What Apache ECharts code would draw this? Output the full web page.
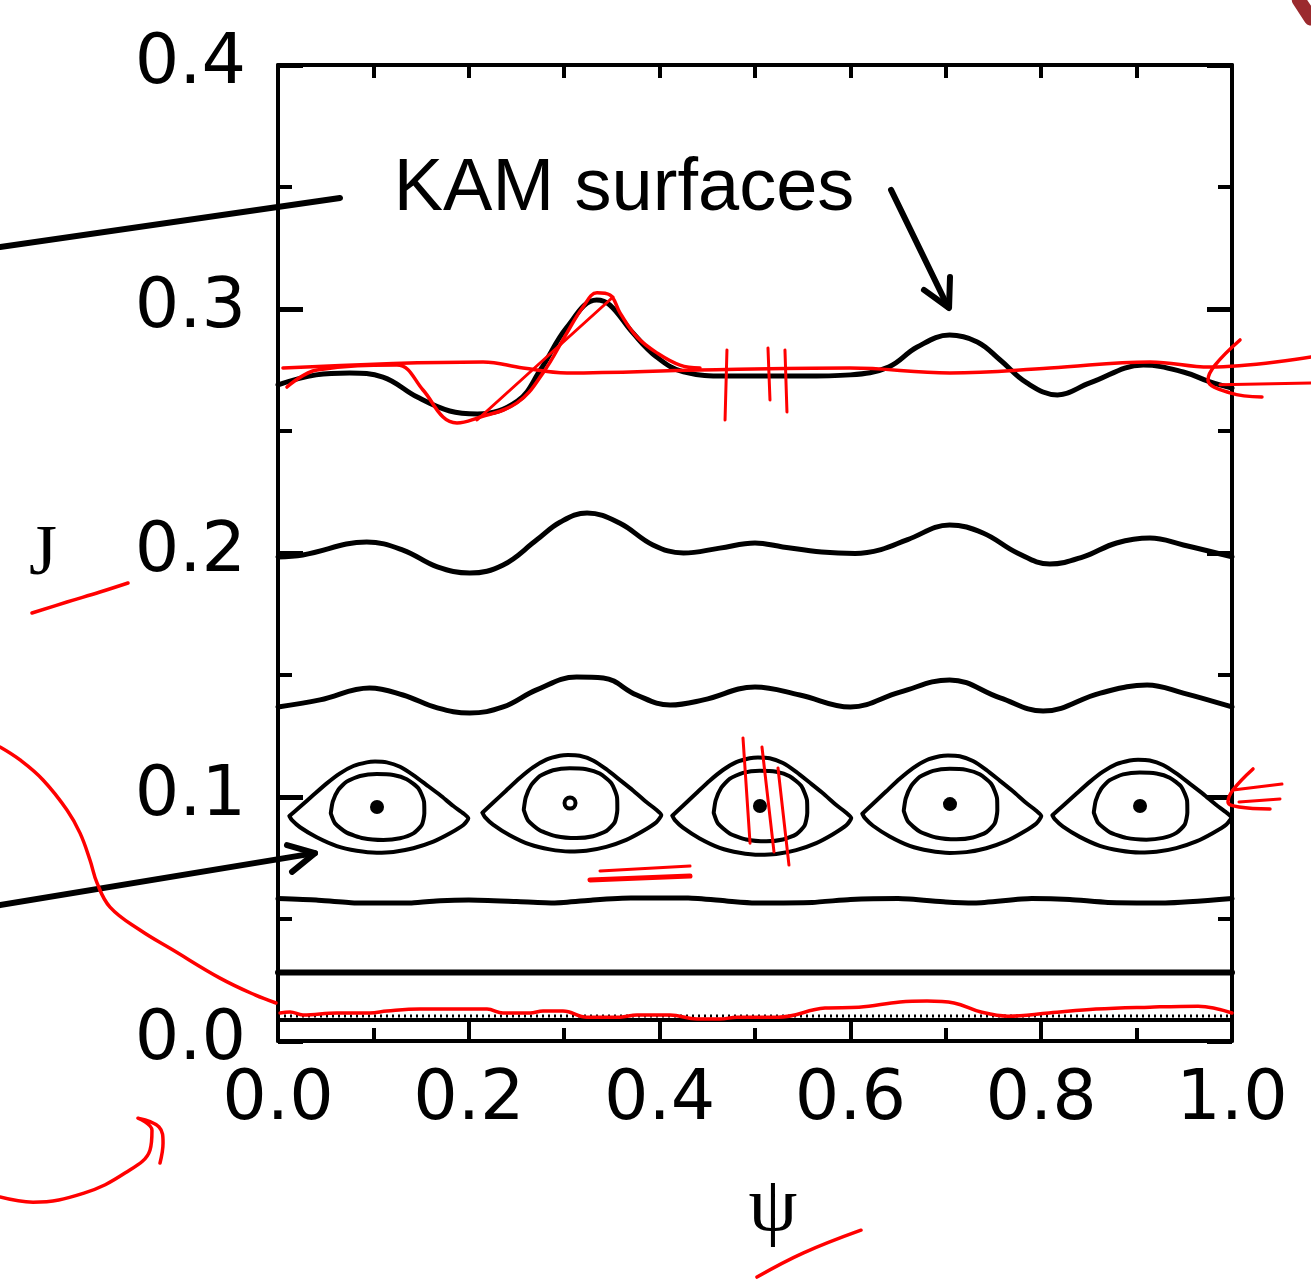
<!doctype html>
<html><head><meta charset="utf-8">
<style>html,body{margin:0;padding:0;background:#fff}#chart{width:1311px;height:1279px}</style>
</head><body><div id="chart"></div>
<script src="https://cdn.jsdelivr.net/npm/echarts@6/dist/echarts.min.js"></script>
<script>
// phase portrait, psi on x, J on y
const kamTop = [[0.000,0.2689],[0.040,0.2730],[0.075,0.2738],[0.110,0.2721],[0.146,0.2639],[0.180,0.2582],[0.209,0.2570],[0.251,0.2623],[0.275,0.2750],[0.303,0.2926],[0.334,0.3037],[0.348,0.3016],[0.372,0.2902],[0.397,0.2803],[0.425,0.2742],[0.470,0.2725],[0.550,0.2725],[0.600,0.2730],[0.640,0.2762],[0.670,0.2844],[0.704,0.2893],[0.733,0.2865],[0.757,0.2791],[0.785,0.2697],[0.817,0.2648],[0.851,0.2697],[0.907,0.2770],[0.949,0.2742],[0.977,0.2701],[1.000,0.2676]];
const kamMid = [[0.000,0.1984],[0.026,0.1992],[0.093,0.2045],[0.131,0.2012],[0.167,0.1943],[0.201,0.1918],[0.236,0.1951],[0.271,0.2053],[0.296,0.2127],[0.324,0.2164],[0.358,0.2123],[0.393,0.2033],[0.425,0.2000],[0.463,0.2020],[0.500,0.2041],[0.529,0.2025],[0.570,0.2004],[0.605,0.1998],[0.632,0.2014],[0.660,0.2055],[0.704,0.2115],[0.739,0.2082],[0.775,0.2000],[0.809,0.1955],[0.844,0.1984],[0.879,0.2041],[0.914,0.2061],[0.949,0.2033],[1.000,0.1984]];
const kamLow = [[0.000,0.1369],[0.044,0.1398],[0.096,0.1447],[0.131,0.1418],[0.167,0.1365],[0.201,0.1344],[0.236,0.1369],[0.271,0.1439],[0.313,0.1492],[0.341,0.1488],[0.376,0.1418],[0.411,0.1377],[0.446,0.1398],[0.500,0.1451],[0.547,0.1418],[0.600,0.1369],[0.652,0.1430],[0.704,0.1480],[0.757,0.1406],[0.802,0.1352],[0.862,0.1426],[0.911,0.1459],[0.949,0.1426],[1.000,0.1369]];
const line058 = [[0.00,0.0584],[0.04,0.0578],[0.08,0.0566],[0.14,0.0566],[0.17,0.0575],[0.20,0.0578],[0.25,0.0572],[0.29,0.0566],[0.33,0.0578],[0.37,0.0586],[0.43,0.0586],[0.47,0.0574],[0.50,0.0566],[0.56,0.0568],[0.60,0.0580],[0.65,0.0584],[0.70,0.0570],[0.73,0.0566],[0.79,0.0584],[0.83,0.0580],[0.87,0.0568],[0.93,0.0566],[1.00,0.0584]];
const line028 = [[0.00,0.0281],[1.00,0.0281]];
const line009 = [[0.00,0.0086],[1.00,0.0086]];
const dots010 = [[0.00,0.0102],[1.00,0.0102]];

// island outlines, offsets from the island centre
const eyeOuter = [[-0.0919,-0.0037],[-0.0807,0.0001],[-0.0668,0.0049],[-0.0527,0.0097],[-0.0388,0.0138],[-0.0248,0.0168],[-0.0108,0.0183],[-0.0021,0.0186],[0.0102,0.0183],[0.0241,0.0165],[0.0380,0.0131],[0.0521,0.0090],[0.0660,0.0049],[0.0800,0.0004],[0.0905,-0.0026],[0.0957,-0.0046],[0.0905,-0.0074],[0.0765,-0.0108],[0.0590,-0.0142],[0.0380,-0.0169],[0.0171,-0.0184],[-0.0003,-0.0187],[-0.0213,-0.0179],[-0.0422,-0.0160],[-0.0632,-0.0124],[-0.0807,-0.0083],[-0.0894,-0.0053],[-0.0919,-0.0037]];
const eyeInner = [[-0.0485,-0.0026],[-0.0464,0.0022],[-0.0406,0.0070],[-0.0318,0.0104],[-0.0178,0.0127],[-0.0003,0.0135],[0.0171,0.0131],[0.0311,0.0114],[0.0433,0.0077],[0.0493,0.0022],[0.0496,-0.0026],[0.0469,-0.0074],[0.0381,-0.0108],[0.0241,-0.0128],[0.0066,-0.0135],[-0.0144,-0.0128],[-0.0318,-0.0105],[-0.0440,-0.0067],[-0.0485,-0.0026]];
const eyeCentres = [[0.1038,0.0959],[0.3061,0.0975],[0.5052,0.0963],[0.7044,0.0971],[0.9036,0.0963]];
const eyeHeight = [1.00,1.06,1.07,1.07,1.02];

// black pointers (drawn in the same psi/J units on a full-page overlay)
const pointerKam = [[-0.2914,0.3254],[0.0650,0.3455]];
const pointerIsland = [[-0.2914,0.0557],[0.0388,0.0770]];
const pointerIslandHead = [[0.0094,0.0803],[0.0388,0.0770],[0.0147,0.0693]];
const arrowKam = [[0.6426,0.3488],[0.7023,0.3008]];
const arrowKamHead = [[0.6771,0.3078],[0.7034,0.3004],[0.7044,0.3131]];

// red pen marks
const redFlat = [[0.0052,0.2758],[0.2149,0.2783],[0.2568,0.2758],[0.3029,0.2738],[0.4423,0.2750],[0.5996,0.2758],[0.7044,0.2738],[0.8092,0.2758],[0.9140,0.2783],[0.9769,0.2762],[1.0828,0.2803]];
const redTrace = [[0.0094,0.2680],[0.0409,0.2750],[0.1247,0.2770],[0.1520,0.2668],[0.1730,0.2557],[0.1876,0.2533],[0.2086,0.2553],[0.2505,0.2615],[0.2778,0.2738],[0.3029,0.2902],[0.3197,0.3008],[0.3344,0.3066],[0.3480,0.3057],[0.3585,0.2984],[0.3763,0.2885],[0.3973,0.2820],[0.4214,0.2770],[0.4423,0.2758]];
const redDiagonal = [[0.2086,0.2545],[0.3512,0.3049]];
const redTopHead = [[1.0084,0.2873],[0.9822,0.2770],[0.9748,0.2709],[0.9979,0.2656],[1.0314,0.2639]];
const redTopShaft = [[0.9874,0.2689],[1.0828,0.2697]];
const redTick1 = [[0.4706,0.2832],[0.4686,0.2545]];
const redTick2 = [[0.5136,0.2840],[0.5157,0.2627]];
const redTick3 = [[0.5314,0.2832],[0.5335,0.2578]];
const redEye1 = [[0.4874,0.1242],[0.4948,0.0811]];
const redEye2 = [[0.5073,0.1205],[0.5199,0.0775]];
const redEye3 = [[0.5241,0.1119],[0.5356,0.0721]];
const redDash1 = [[0.3270,0.0660],[0.4319,0.0676]];
const redDash2 = [[0.3375,0.0697],[0.4319,0.0717]];
const redMidHead = [[1.0220,0.1115],[1.0010,0.1029],[0.9958,0.0980],[1.0073,0.0959],[1.0398,0.0951]];
const redMidArm1 = [[1.0010,0.1029],[1.0524,0.1053]];
const redMidArm2 = [[1.0073,0.0980],[1.0503,0.0992]];
const redBottom = [[0.0021,0.0115],[0.0126,0.0119],[0.0262,0.0107],[0.0618,0.0115],[0.0964,0.0115],[0.1143,0.0123],[0.1488,0.0131],[0.2191,0.0131],[0.2358,0.0115],[0.2642,0.0115],[0.2778,0.0123],[0.2987,0.0123],[0.3239,0.0098],[0.3585,0.0098],[0.3763,0.0107],[0.4109,0.0107],[0.4392,0.0090],[0.4633,0.0090],[0.4811,0.0098],[0.5241,0.0098],[0.5734,0.0135],[0.6090,0.0139],[0.6520,0.0160],[0.6803,0.0164],[0.7086,0.0156],[0.7369,0.0119],[0.7652,0.0102],[0.8082,0.0115],[0.8574,0.0131],[0.9140,0.0139],[0.9644,0.0143],[1.0000,0.0115]];
const redSweep = [[-0.2914,0.1205],[-0.2704,0.1152],[-0.2463,0.1070],[-0.2212,0.0947],[-0.2075,0.0852],[-0.1971,0.0742],[-0.1897,0.0648],[-0.1761,0.0549],[-0.1447,0.0455],[-0.1101,0.0373],[-0.0608,0.0258],[-0.0241,0.0189],[-0.0021,0.0156]];
const redUnderJ = [[-0.2579,0.1754],[-0.2212,0.1799],[-0.1866,0.1840],[-0.1572,0.1877]];
const redHook = [[-0.2914,-0.0639],[-0.2568,-0.0660],[-0.2034,-0.0623],[-0.1604,-0.0541],[-0.1342,-0.0447],[-0.1321,-0.0365],[-0.1468,-0.0316],[-0.1247,-0.0352],[-0.1205,-0.0418],[-0.1237,-0.0500]];
const redUnderPsi = [[0.5021,-0.0967],[0.5503,-0.0869],[0.6111,-0.0775]];
const redCorner = [[1.0700,0.4266],[1.0828,0.4190]];

// overlay extent: the whole page expressed in psi / J
const pagePsi = [-0.2914, 1.0828];
const pageJ = [-0.0975, 0.4266];

function place(tpl, c, h) {
  return tpl.map(p => [c[0] + p[0], c[1] + p[1] * h]);
}
function curve(data, color, width, extra) {
  return Object.assign({
    type: 'line', data: data, symbol: 'none', smooth: 0.4, silent: true,
    lineStyle: { color: color, width: width, cap: 'round', join: 'round' }
  }, extra || {});
}
const onPage = { xAxisIndex: 2, yAxisIndex: 2, clip: false };

const series = [
  curve(kamTop, '#000', 5),
  curve(kamMid, '#000', 5),
  curve(kamLow, '#000', 5),
  curve(line058, '#000', 5, { smooth: 0.2 }),
  curve(line028, '#000', 6, { smooth: 0 }),
  curve(line009, '#000', 4, { smooth: 0 }),
  curve(dots010, '#000', 3, { smooth: 0, lineStyle: { color: '#000', width: 3, type: [2, 4] } })
];
eyeCentres.forEach((c, i) => {
  series.push(curve(place(eyeOuter, c, eyeHeight[i]), '#000', 4, { smooth: 0.2 }));
  series.push(curve(place(eyeInner, c, eyeHeight[i]), '#000', 4, { smooth: 0.2 }));
});
series.push({ type: 'scatter', data: eyeCentres.filter((c, i) => i !== 1), symbol: 'circle', symbolSize: 14, itemStyle: { color: '#000', opacity: 1 }, silent: true });
series.push({ type: 'scatter', data: [eyeCentres[1]], symbol: 'circle', symbolSize: 11, itemStyle: { color: '#fff', borderColor: '#000', borderWidth: 4, opacity: 1 }, silent: true });

[pointerKam, pointerIsland, pointerIslandHead, arrowKam, arrowKamHead].forEach(d => series.push(curve(d, '#000', 6, Object.assign({ smooth: 0 }, onPage))));

[redFlat, redTrace, redTopHead, redSweep, redBottom, redMidHead, redUnderJ, redHook, redUnderPsi].forEach(d => series.push(curve(d, '#f00', 3.5, Object.assign({ smooth: 0.4 }, onPage))));
[redDiagonal, redTopShaft, redTick1, redTick2, redTick3, redEye1, redEye2, redEye3, redDash2, redMidArm1, redMidArm2].forEach(d => series.push(curve(d, '#f00', 3, Object.assign({ smooth: 0 }, onPage))));
series.push(curve(redDash1, '#f00', 5, Object.assign({ smooth: 0 }, onPage)));
series.push(curve(redCorner, '#9b2a2e', 14, Object.assign({ smooth: 0 }, onPage)));

const frame = { show: true, onZero: false, lineStyle: { color: '#000', width: 4 } };
const tickFont = { color: '#000', fontFamily: 'DejaVu Sans', fontSize: 70, formatter: v => v.toFixed(1) };
const hidden = { show: false };

const option = {
  animation: false,
  backgroundColor: '#fff',
  grid: [
    { left: 278, right: 79, top: 65, bottom: 238, containLabel: false },
    { left: 0, right: 0, top: 0, bottom: 0, containLabel: false }
  ],
  xAxis: [
    { type: 'value', gridIndex: 0, min: 0, max: 1, interval: 0.2, position: 'bottom', axisLine: frame,
      axisTick: { inside: true, length: 19, lineStyle: { color: '#000', width: 4 } },
      minorTick: { show: true, splitNumber: 2, length: 13, lineStyle: { color: '#000', width: 4 } },
      axisLabel: Object.assign({ margin: 25 }, tickFont), splitLine: hidden },
    { type: 'value', gridIndex: 0, min: 0, max: 1, interval: 0.1, position: 'top', axisLine: frame,
      axisTick: { inside: true, length: 13, lineStyle: { color: '#000', width: 4 } },
      axisLabel: hidden, splitLine: hidden },
    { type: 'value', gridIndex: 1, min: pagePsi[0], max: pagePsi[1], show: false }
  ],
  yAxis: [
    { type: 'value', gridIndex: 0, min: 0, max: 0.4, interval: 0.1, position: 'left', axisLine: frame,
      axisTick: { inside: true, length: 25, lineStyle: { color: '#000', width: 5 } },
      minorTick: { show: true, splitNumber: 2, length: 14, lineStyle: { color: '#000', width: 4 } },
      axisLabel: Object.assign({ margin: 32 }, tickFont), splitLine: hidden },
    { type: 'value', gridIndex: 0, min: 0, max: 0.4, interval: 0.1, position: 'right', axisLine: frame,
      axisTick: { inside: true, length: 25, lineStyle: { color: '#000', width: 5 } },
      minorTick: { show: true, splitNumber: 2, length: 14, lineStyle: { color: '#000', width: 4 } },
      axisLabel: hidden, splitLine: hidden },
    { type: 'value', gridIndex: 1, min: pageJ[0], max: pageJ[1], show: false }
  ],
  graphic: [
    { type: 'text', x: 624, y: 190, style: { text: 'KAM surfaces', font: '74px "Liberation Sans"', fill: '#000', align: 'center', verticalAlign: 'middle' } },
    { type: 'text', x: 43, y: 555, style: { text: 'J', font: '72px "Liberation Serif"', fill: '#000', align: 'center', verticalAlign: 'middle' } },
    { type: 'text', x: 773, y: 1210, style: { text: 'ψ', font: '78px "Liberation Serif"', fill: '#000', align: 'center', verticalAlign: 'middle' } }
  ],
  series: series
};

const chart = echarts.init(document.getElementById('chart'));
chart.setOption(option);
</script></body></html>
